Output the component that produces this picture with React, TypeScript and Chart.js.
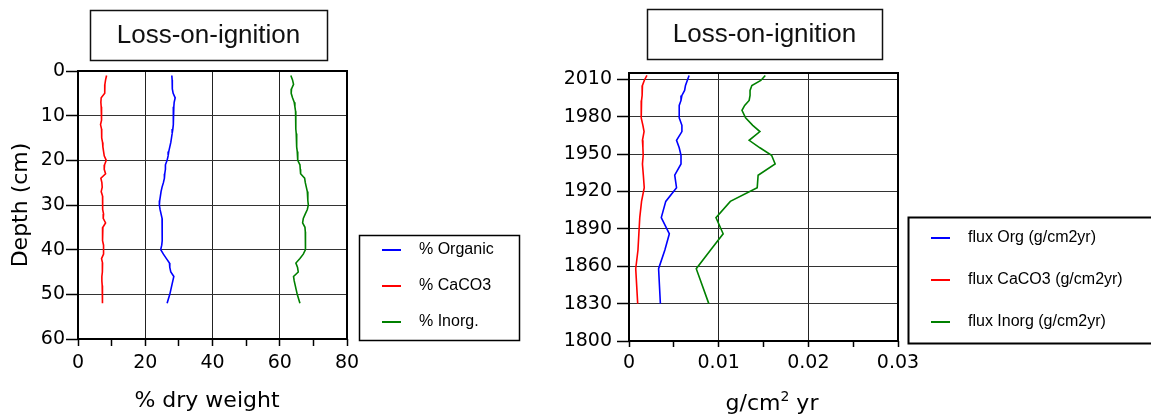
import React, { useEffect, useRef } from "react";
import { Chart, registerables } from "chart.js";

Chart.register(...registerables);

// ---------- Left chart data (depth profile, % dry weight) ----------
const depthCm = [
  1, 2, 3, 4, 5, 6, 7, 8, 9, 10, 11, 12, 13, 14, 15, 16, 17, 18, 19, 20, 21, 22, 23, 24, 25, 26,
  27, 28, 29, 30, 31, 32, 33, 34, 35, 36, 37, 38, 39, 40, 41, 42, 43, 44, 45, 46, 47, 48, 49, 50, 51, 52,
];
const organicPct = [
  27.9, 28.0, 28.0, 28.1, 28.3, 28.9, 28.6, 28.5, 28.4, 28.3,
  28.4, 28.3, 28.2, 28.0, 27.8, 27.6, 27.3, 27.0, 26.8, 26.5,
  26.0, 26.0, 25.8, 25.7, 25.4, 25.0, 24.7, 24.5, 24.3, 24.2,
  24.4, 24.7, 25.0, 25.0, 25.1, 25.0, 25.1, 25.0, 24.9, 24.6,
  25.4, 26.3, 27.2, 27.3, 27.6, 28.5, 28.2, 27.9, 27.6, 27.3,
  26.9, 26.5,
];
const caco3Pct = [
  8.5, 8.2, 8.0, 8.0, 7.9, 6.9, 6.8, 6.9, 7.0, 7.1,
  6.9, 6.7, 7.0, 7.1, 7.0, 7.3, 7.4, 7.6, 7.8, 8.4,
  7.9, 7.8, 8.2, 6.8, 7.1, 7.2, 6.9, 7.3, 7.2, 7.4,
  7.4, 7.6, 7.5, 8.2, 7.4, 7.4, 7.3, 7.2, 7.6, 7.7,
  7.5, 7.0, 7.3, 7.3, 7.2, 7.1, 7.1, 7.2, 7.2, 7.2,
  7.3, 7.4,
];
const inorgPct = [
  63.3, 63.8, 64.1, 63.5, 63.4, 63.8, 64.3, 64.5, 64.7, 64.8,
  64.8, 64.7, 64.8, 64.9, 65.0, 65.0, 65.1, 65.2, 65.3, 65.4,
  66.0, 66.1, 66.2, 67.4, 67.6, 67.9, 68.2, 68.3, 68.4, 68.5,
  68.2, 67.6, 67.0, 66.8, 67.5, 67.6, 67.6, 67.7, 67.7, 67.6,
  67.0, 66.0, 64.8, 65.3, 65.5, 64.1, 64.3, 64.6, 64.9, 65.2,
  65.6, 66.0,
];
const depthTicks = [0, 10, 20, 30, 40, 50, 60];
const depthTickLabels = ["0", "10", "20", "30", "40", "50", "60"];
const pctTicks = [0, 10, 20, 30, 40, 50, 60, 70, 80];
const pctTickLabels = ["0", "", "20", "", "40", "", "60", "", "80"];
const pctGridShown = [false, false, true, false, true, false, true, false, false];
const leftLabels = ["% Organic", "% CaCO3", "% Inorg."];

// ---------- Right chart data (flux by year) ----------
const years = [
  2013, 2009, 2005, 2001, 1997, 1993, 1989, 1985, 1979, 1973, 1968, 1961,
  1955, 1949, 1942, 1933, 1923, 1912, 1899, 1886, 1873, 1858, 1830,
];
const fluxOrg = [
  0.0067, 0.0065, 0.0063, 0.0062, 0.0059, 0.0058, 0.0056, 0.0056, 0.0056, 0.0059, 0.0059, 0.0053,
  0.0056, 0.0058, 0.0058, 0.0051, 0.0053, 0.0041, 0.0036, 0.0045, 0.004, 0.0033, 0.0035,
];
const fluxCaCO3 = [
  0.002, 0.0017, 0.0015, 0.00148, 0.00145, 0.0014, 0.00135, 0.00134, 0.0014, 0.00155, 0.00168, 0.0015,
  0.00155, 0.00158, 0.0015, 0.0016, 0.0017, 0.0014, 0.0012, 0.0011, 0.001, 0.00075, 0.00097,
];
const fluxInorg = [
  0.0152, 0.0147, 0.0137, 0.0135, 0.0135, 0.0134, 0.0129, 0.0126, 0.013, 0.0138, 0.0146, 0.0134,
  0.0146, 0.0159, 0.0163, 0.0144, 0.0143, 0.0113, 0.0097, 0.0105, 0.0091, 0.0075, 0.0089,
];
const yearTicks = [1800, 1830, 1860, 1890, 1920, 1950, 1980, 2010];
const yearTickLabels = ["1800", "1830", "1860", "1890", "1920", "1950", "1980", "2010"];
const fluxTicks = [0, 0.005, 0.01, 0.015, 0.02, 0.025, 0.03];
const fluxTickLabels = ["0", "", "0.01", "", "0.02", "", "0.03"];
const fluxGridShown = [false, false, true, false, true, false, false];
const rightLabels = ["flux Org (g/cm2yr)", "flux CaCO3 (g/cm2yr)", "flux Inorg (g/cm2yr)"];

const chartTitle = "Loss-on-ignition";

const BLUE = "#0000ff";
const RED = "#ff0000";
const GREEN = "#008000";
const W = 1151;
const H = 420;
const FONT = "'Liberation Sans', Arial, Helvetica, sans-serif";
const WIDE = "'DejaVu Sans', 'Liberation Sans', sans-serif";

type Decor = {
  titleBox: { x: number; y: number; w: number; h: number };
  legendBox: { x: number; y: number; w: number; h: number; lw: number };
  legendRows: number[];
  legendLineX: [number, number];
  legendTextX: number;
  xTitle: { parts: { t: string; sup?: boolean }[]; cx: number; base: number };
  yTitle?: { t: string; x: number; cy: number };
};

function makeDecor(id: string, d: Decor) {
  return {
    id,
    afterDraw(chart: any) {
      const ctx: CanvasRenderingContext2D = chart.ctx;
      const a = chart.chartArea;
      ctx.save();
      // plot frame
      ctx.strokeStyle = "#000";
      ctx.lineWidth = 2;
      ctx.strokeRect(a.left, a.top, a.right - a.left, a.bottom - a.top);

      // title box
      const tb = d.titleBox;
      ctx.lineWidth = 1.5;
      ctx.strokeStyle = "#111";
      ctx.strokeRect(tb.x + 0.5, tb.y + 0.5, tb.w, tb.h);
      ctx.fillStyle = "#111";
      ctx.font = `26px ${FONT}`;
      ctx.textAlign = "center";
      ctx.textBaseline = "middle";
      ctx.fillText(chartTitle, tb.x + tb.w / 2, tb.y + tb.h / 2 + 1);

      // legend box
      const lb = d.legendBox;
      ctx.lineWidth = lb.lw;
      ctx.strokeStyle = "#000";
      ctx.strokeRect(lb.x + 0.5, lb.y + 0.5, lb.w, lb.h);
      ctx.font = `16px ${FONT}`;
      ctx.textAlign = "left";
      ctx.textBaseline = "middle";
      chart.data.datasets.forEach((ds: any, i: number) => {
        const y = d.legendRows[i];
        ctx.strokeStyle = ds.borderColor;
        ctx.lineWidth = 2;
        ctx.beginPath();
        ctx.moveTo(d.legendLineX[0], y);
        ctx.lineTo(d.legendLineX[1], y);
        ctx.stroke();
        ctx.fillStyle = "#000";
        ctx.fillText(ds.label, d.legendTextX, y);
      });

      // x axis title (with optional superscript)
      ctx.fillStyle = "#000";
      ctx.textBaseline = "alphabetic";
      ctx.textAlign = "left";
      const big = `22px ${WIDE}`;
      const small = `14px ${WIDE}`;
      let total = 0;
      d.xTitle.parts.forEach((p) => {
        ctx.font = p.sup ? small : big;
        total += ctx.measureText(p.t).width;
      });
      let x = d.xTitle.cx - total / 2;
      d.xTitle.parts.forEach((p) => {
        ctx.font = p.sup ? small : big;
        ctx.fillText(p.t, x, p.sup ? d.xTitle.base - 9 : d.xTitle.base);
        x += ctx.measureText(p.t).width;
      });

      // y axis title
      if (d.yTitle) {
        ctx.save();
        ctx.translate(d.yTitle.x, d.yTitle.cy);
        ctx.rotate(-Math.PI / 2);
        ctx.font = big;
        ctx.textAlign = "center";
        ctx.textBaseline = "alphabetic";
        ctx.fillText(d.yTitle.t, 0, 0);
        ctx.restore();
      }
      ctx.restore();
    },
  };
}

const tickFont = { family: WIDE, size: 19 };

function makeLeftConfig(): any {
  const mk = (label: string, vals: number[], color: string) => ({
    label,
    data: vals.map((v, i) => ({ x: v, y: depthCm[i] })),
    borderColor: color,
    backgroundColor: color,
    borderWidth: 1.6,
    pointRadius: 0,
    tension: 0,
    fill: false,
  });
  return {
    type: "line",
    data: {
      datasets: [
        mk(leftLabels[0], organicPct, BLUE),
        mk(leftLabels[1], caco3Pct, RED),
        mk(leftLabels[2], inorgPct, GREEN),
      ],
    },
    options: {
      responsive: false,
      animation: false,
      events: [],
      layout: { padding: { top: 71, right: W - 347, bottom: 0, left: 0 } },
      plugins: { legend: { display: false }, tooltip: { enabled: false }, title: { display: false } },
      scales: {
        x: {
          type: "linear",
          position: "bottom",
          min: 0,
          max: 80,
          afterBuildTicks: (s: any) => {
            s.ticks = pctTicks.map((v) => ({ value: v }));
          },
          afterFit: (s: any) => {
            s.height = H - 339;
          },
          ticks: {
            autoSkip: false,
            maxRotation: 0,
            padding: 6,
            color: "#000",
            font: tickFont,
            callback: (_v: any, i: number) => pctTickLabels[i],
          },
          grid: {
            color: (c: any) => (pctGridShown[c.index] ? "#222" : "rgba(0,0,0,0)"),
            tickColor: "#000",
            tickLength: 7,
            tickWidth: 1.5,
            lineWidth: 1,
          },
          border: { display: false },
        },
        y: {
          type: "linear",
          position: "left",
          reverse: true,
          min: 0,
          max: 60,
          afterBuildTicks: (s: any) => {
            s.ticks = depthTicks.map((v) => ({ value: v }));
          },
          afterFit: (s: any) => {
            s.width = 78;
          },
          ticks: {
            autoSkip: false,
            padding: 1,
            color: "#000",
            font: tickFont,
            callback: (_v: any, i: number) => depthTickLabels[i],
          },
          grid: { color: "#333", tickColor: "#000", tickLength: 12, tickWidth: 1.5, lineWidth: 1 },
          border: { display: false },
        },
      },
    },
    plugins: [
      makeDecor("decorLeft", {
        titleBox: { x: 90, y: 10, w: 237, h: 50 },
        legendBox: { x: 359, y: 235, w: 160, h: 105, lw: 1.5 },
        legendRows: [250, 286, 322],
        legendLineX: [382, 401],
        legendTextX: 419,
        xTitle: { parts: [{ t: "% dry weight" }], cx: 207, base: 407 },
        yTitle: { t: "Depth (cm)", x: 27, cy: 205 },
      }),
    ],
  };
}

function makeRightConfig(): any {
  const mk = (label: string, vals: number[], color: string) => ({
    label,
    data: vals.map((v, i) => ({ x: v, y: years[i] })),
    borderColor: color,
    backgroundColor: color,
    borderWidth: 1.6,
    pointRadius: 0,
    tension: 0,
    fill: false,
  });
  return {
    type: "line",
    data: {
      datasets: [
        mk(rightLabels[0], fluxOrg, BLUE),
        mk(rightLabels[1], fluxCaCO3, RED),
        mk(rightLabels[2], fluxInorg, GREEN),
      ],
    },
    options: {
      responsive: false,
      animation: false,
      events: [],
      layout: { padding: { top: 73, right: W - 898, bottom: 0, left: 0 } },
      plugins: { legend: { display: false }, tooltip: { enabled: false }, title: { display: false } },
      scales: {
        x: {
          type: "linear",
          position: "bottom",
          min: 0,
          max: 0.03,
          afterBuildTicks: (s: any) => {
            s.ticks = fluxTicks.map((v) => ({ value: v }));
          },
          afterFit: (s: any) => {
            s.height = H - 341;
          },
          ticks: {
            autoSkip: false,
            maxRotation: 0,
            padding: 5,
            color: "#000",
            font: tickFont,
            callback: (_v: any, i: number) => fluxTickLabels[i],
          },
          grid: {
            color: (c: any) => (fluxGridShown[c.index] ? "#222" : "rgba(0,0,0,0)"),
            tickColor: "#000",
            tickLength: 6,
            tickWidth: 1.5,
            lineWidth: 1,
          },
          border: { display: false },
        },
        y: {
          type: "linear",
          position: "left",
          min: 1800,
          max: 2015,
          afterBuildTicks: (s: any) => {
            s.ticks = yearTicks.map((v) => ({ value: v }));
          },
          afterFit: (s: any) => {
            s.width = 629;
          },
          ticks: {
            autoSkip: false,
            padding: 5,
            color: "#000",
            font: tickFont,
            callback: (_v: any, i: number) => yearTickLabels[i],
          },
          grid: { color: "#333", tickColor: "#000", tickLength: 12, tickWidth: 1.5, lineWidth: 1 },
          border: { display: false },
        },
      },
    },
    plugins: [
      makeDecor("decorRight", {
        titleBox: { x: 647, y: 9, w: 235, h: 50 },
        legendBox: { x: 908, y: 217, w: 260, h: 126, lw: 2 },
        legendRows: [238, 280, 322],
        legendLineX: [931, 950],
        legendTextX: 968,
        xTitle: { parts: [{ t: "g/cm" }, { t: "2", sup: true }, { t: " yr" }], cx: 772, base: 410 },
      }),
    ],
  };
}

export default function App() {
  const leftRef = useRef<HTMLCanvasElement | null>(null);
  const rightRef = useRef<HTMLCanvasElement | null>(null);

  useEffect(() => {
    const c1 = new Chart(leftRef.current as HTMLCanvasElement, makeLeftConfig());
    const c2 = new Chart(rightRef.current as HTMLCanvasElement, makeRightConfig());
    return () => {
      c1.destroy();
      c2.destroy();
    };
  }, []);

  const canvasStyle: React.CSSProperties = {
    position: "absolute",
    left: 0,
    top: 0,
    width: W,
    height: H,
  };

  return (
    <div style={{ position: "absolute", left: 0, top: 0, width: W, height: H, background: "#fff", overflow: "hidden" }}>
      <canvas ref={leftRef} width={W} height={H} style={canvasStyle} />
      <canvas ref={rightRef} width={W} height={H} style={canvasStyle} />
    </div>
  );
}
